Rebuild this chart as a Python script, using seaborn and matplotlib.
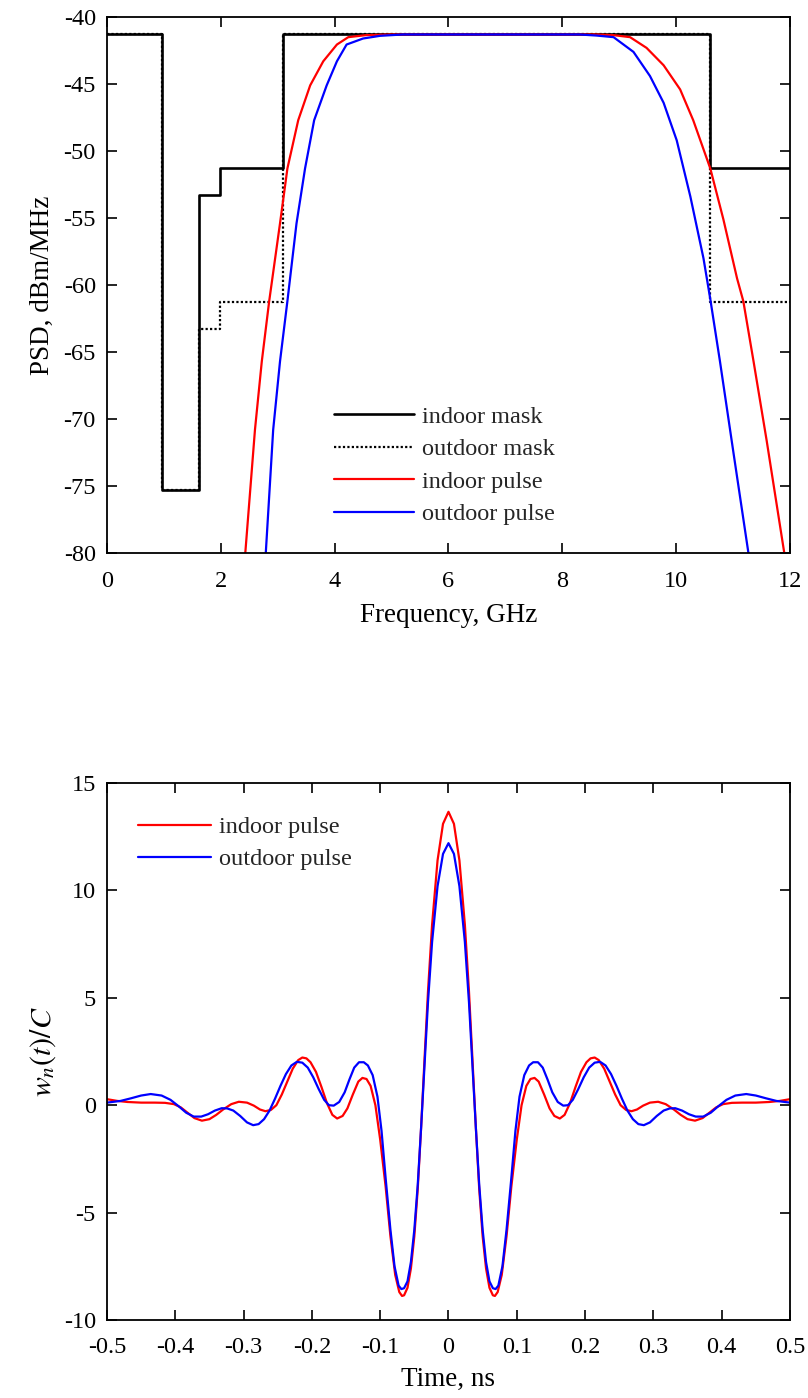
import matplotlib
matplotlib.use("Agg")
import matplotlib.pyplot as plt
import seaborn as sns

# ---------------- data: top panel (PSD) ----------------
mask_f = [0.0, 0.96, 1.61, 1.99, 3.1, 10.6, 12.0]
indoor_mask = [-41.3, -75.3, -53.3, -51.3, -41.3, -51.3, -51.3]
outdoor_mask = [-41.3, -75.3, -63.3, -61.3, -41.3, -61.3, -61.3]

indoor_f = [2.43, 2.60, 2.72, 2.85, 3.04, 3.17, 3.36, 3.57, 3.80, 4.04, 4.24, 4.55, 5.0, 6.0,
            7.0, 8.0, 8.6, 8.9, 9.19, 9.48, 9.78, 10.07, 10.30, 10.60, 10.83, 11.07, 11.18,
            11.36, 11.59, 11.90]
indoor_psd = [-80, -70.8, -65.7, -61.2, -55.4, -51.3, -47.7, -45.1, -43.3, -42.05, -41.5, -41.35,
              -41.3, -41.3, -41.3, -41.3, -41.3, -41.35, -41.5, -42.3, -43.6, -45.4, -47.7, -51.3,
              -55.1, -59.5, -61.2, -65.7, -71.6, -80]

outdoor_f = [2.79, 2.92, 3.04, 3.17, 3.33, 3.48, 3.64, 3.86, 4.04, 4.21, 4.50, 4.80, 5.2, 6.0,
             7.0, 8.0, 8.3, 8.6, 8.9, 9.25, 9.54, 9.78, 10.01, 10.25, 10.48, 10.60, 10.77,
             11.01, 11.27]
outdoor_psd = [-80, -70.8, -65.7, -61.2, -55.4, -51.3, -47.7, -45.1, -43.3, -42.05, -41.6, -41.4,
               -41.3, -41.3, -41.3, -41.3, -41.3, -41.38, -41.5, -42.6, -44.4, -46.4, -49.2,
               -53.4, -58.0, -61.05, -65.7, -72.6, -80]

freq_ticks = [0, 2, 4, 6, 8, 10, 12]
psd_ticks = [-80, -75, -70, -65, -60, -55, -50, -45, -40]

# ---------------- data: bottom panel (pulses) ----------------
indoor_t = [-0.500, -0.485, -0.470, -0.450, -0.430, -0.415, -0.402, -0.392, -0.382, -0.372,
            -0.361, -0.350, -0.340, -0.330, -0.318, -0.307, -0.295, -0.285, -0.276, -0.268,
            -0.260, -0.252, -0.244, -0.236, -0.228, -0.220, -0.214, -0.208, -0.202, -0.194,
            -0.186, -0.178, -0.170, -0.163, -0.155, -0.148, -0.140, -0.132, -0.126, -0.120,
            -0.114, -0.107, -0.100, -0.092, -0.085, -0.078, -0.072, -0.068, -0.065, -0.060,
            -0.055, -0.050, -0.045, -0.040, -0.035, -0.030, -0.024, -0.016, -0.008,
            0.000, 0.008, 0.016, 0.024, 0.030, 0.035, 0.040, 0.045, 0.050, 0.055, 0.060,
            0.065, 0.068, 0.072, 0.078, 0.085, 0.092, 0.100, 0.107, 0.114, 0.120, 0.126,
            0.132, 0.140, 0.148, 0.155, 0.163, 0.170, 0.178, 0.186, 0.194, 0.202, 0.208,
            0.214, 0.220, 0.228, 0.236, 0.244, 0.252, 0.260, 0.268, 0.276, 0.285, 0.295,
            0.307, 0.318, 0.330, 0.340, 0.350, 0.361, 0.372, 0.382, 0.392, 0.402, 0.415,
            0.430, 0.450, 0.470, 0.485, 0.500]
indoor_w = [0.28, 0.2, 0.15, 0.12, 0.12, 0.11, 0.05, -0.1, -0.35, -0.6,
            -0.72, -0.65, -0.45, -0.2, 0.05, 0.16, 0.12, -0.02, -0.2, -0.28,
            -0.22, 0.0, 0.5, 1.1, 1.7, 2.1, 2.22, 2.18, 2.0, 1.55,
            0.85, 0.1, -0.45, -0.62, -0.5, -0.15, 0.5, 1.1, 1.27, 1.22,
            0.9, 0.0, -1.6, -3.8, -6.1, -7.9, -8.7, -8.88, -8.85, -8.5,
            -7.6, -6.1, -3.9, -1.0, 2.2, 5.3, 8.4, 11.4, 13.1,
            13.66, 13.1, 11.4, 8.4, 5.3, 2.2, -1.0, -3.9, -6.1, -7.6, -8.5,
            -8.85, -8.88, -8.7, -7.9, -6.1, -3.8, -1.6, 0.0, 0.9, 1.22, 1.27,
            1.1, 0.5, -0.15, -0.5, -0.62, -0.45, 0.1, 0.85, 1.55, 2.0, 2.18,
            2.22, 2.1, 1.7, 1.1, 0.5, 0.0, -0.22, -0.28, -0.2, -0.02, 0.12,
            0.16, 0.05, -0.2, -0.45, -0.65, -0.72, -0.6, -0.35, -0.1, 0.05, 0.11,
            0.12, 0.12, 0.15, 0.2, 0.28]

outdoor_t = [-0.500, -0.480, -0.465, -0.450, -0.436, -0.420, -0.407, -0.395, -0.384, -0.373,
             -0.362, -0.352, -0.342, -0.332, -0.324, -0.315, -0.305, -0.295, -0.286, -0.278,
             -0.270, -0.262, -0.254, -0.246, -0.238, -0.230, -0.222, -0.214, -0.206, -0.198,
             -0.190, -0.182, -0.175, -0.168, -0.160, -0.152, -0.145, -0.138, -0.131, -0.124,
             -0.118, -0.111, -0.104, -0.098, -0.092, -0.085, -0.079, -0.073, -0.069, -0.065,
             -0.060, -0.055, -0.050, -0.045, -0.040, -0.035, -0.030, -0.024, -0.016, -0.008,
             0.000, 0.008, 0.016, 0.024, 0.030, 0.035, 0.040, 0.045, 0.050, 0.055,
             0.060, 0.065, 0.069, 0.073, 0.079, 0.085, 0.092, 0.098, 0.104, 0.111,
             0.118, 0.124, 0.131, 0.138, 0.145, 0.152, 0.160, 0.168, 0.175, 0.182,
             0.190, 0.198, 0.206, 0.214, 0.222, 0.230, 0.238, 0.246, 0.254, 0.262,
             0.270, 0.278, 0.286, 0.295, 0.305, 0.315, 0.324, 0.332, 0.342, 0.352,
             0.362, 0.373, 0.384, 0.395, 0.407, 0.420, 0.436, 0.450, 0.465, 0.480, 0.500]
outdoor_w = [0.12, 0.2, 0.32, 0.45, 0.52, 0.45, 0.25, -0.05, -0.35, -0.53,
             -0.53, -0.42, -0.25, -0.14, -0.15, -0.25, -0.5, -0.8, -0.93, -0.88,
             -0.65, -0.25, 0.3, 0.9, 1.45, 1.85, 2.02, 1.98, 1.75, 1.3,
             0.75, 0.25, 0.0, -0.02, 0.15, 0.6, 1.2, 1.75, 2.0, 2.0,
             1.85, 1.4, 0.4, -1.2, -3.4, -5.8, -7.5, -8.4, -8.56, -8.52,
             -8.2, -7.3, -5.8, -3.7, -1.0, 1.9, 4.8, 7.6, 10.2, 11.7,
             12.2, 11.7, 10.2, 7.6, 4.8, 1.9, -1.0, -3.7, -5.8, -7.3,
             -8.2, -8.52, -8.56, -8.4, -7.5, -5.8, -3.4, -1.2, 0.4, 1.4,
             1.85, 2.0, 2.0, 1.75, 1.2, 0.6, 0.15, -0.02, 0.0, 0.25,
             0.75, 1.3, 1.75, 1.98, 2.02, 1.85, 1.45, 0.9, 0.3, -0.25,
             -0.65, -0.88, -0.93, -0.8, -0.5, -0.25, -0.15, -0.14, -0.25, -0.42,
             -0.53, -0.53, -0.35, -0.05, 0.25, 0.45, 0.52, 0.45, 0.32, 0.2, 0.12]

time_ticks = [-0.5, -0.4, -0.3, -0.2, -0.1, 0, 0.1, 0.2, 0.3, 0.4, 0.5]
time_ticklabels = ["-0.5", "-0.4", "-0.3", "-0.2", "-0.1", "0", "0.1", "0.2", "0.3", "0.4", "0.5"]
w_ticks = [-10, -5, 0, 5, 10, 15]

# ---------------- style ----------------
sns.set_theme(style="white")
plt.rcParams["font.family"] = ["Liberation Serif", "DejaVu Serif"]
plt.rcParams["mathtext.fontset"] = "stix"
plt.rcParams["axes.unicode_minus"] = False
plt.rcParams["axes.edgecolor"] = "black"
plt.rcParams["axes.linewidth"] = 1.3

TICK_FS = 17.5
LAB_FS = 19.5
LEG_FS = 17.5
LW = 1.6

fig = plt.figure(figsize=(8.08, 13.98), dpi=100)
ax1 = fig.add_axes([0.1324, 0.6044, 0.8453, 0.3834])
ax2 = fig.add_axes([0.1324, 0.0558, 0.8453, 0.3841])

def style_axes(ax, xpad):
    ax.tick_params(axis="both", which="major", direction="in", length=7, width=1.2,
                   top=True, right=True, bottom=True, left=True,
                   labelsize=TICK_FS, colors="black")
    ax.tick_params(axis="x", pad=xpad)
    ax.tick_params(axis="y", pad=8)
    for s in ax.spines.values():
        s.set_color("black")
        s.set_linewidth(1.3)
    ax.grid(False)

# ---- top panel ----
sns.lineplot(x=mask_f, y=outdoor_mask, ax=ax1, color="black", lw=LW, linestyle=(0, (1, 1)),
             drawstyle="steps-post", estimator=None, sort=False, label="outdoor mask")
sns.lineplot(x=mask_f, y=indoor_mask, ax=ax1, color="black", lw=LW + 0.3,
             drawstyle="steps-post", estimator=None, sort=False, label="indoor mask")
sns.lineplot(x=indoor_f, y=indoor_psd, ax=ax1, color="#ff0000", lw=LW,
             estimator=None, sort=False, label="indoor pulse")
sns.lineplot(x=outdoor_f, y=outdoor_psd, ax=ax1, color="#0000ff", lw=LW,
             estimator=None, sort=False, label="outdoor pulse")
ax1.set_xlim(0, 12)
ax1.set_ylim(-80, -40)
ax1.set_xticks(freq_ticks)
ax1.set_yticks(psd_ticks)
ax1.set_xlabel("Frequency, GHz", fontsize=LAB_FS, color="black", labelpad=8)
ax1.set_ylabel("PSD, dBm/MHz", fontsize=LAB_FS, color="black", labelpad=6)
style_axes(ax1, 13)
h, l = ax1.get_legend_handles_labels()
order = [l.index("indoor mask"), l.index("outdoor mask"), l.index("indoor pulse"), l.index("outdoor pulse")]
ax1.legend([h[i] for i in order], [l[i] for i in order], loc="center left",
           bbox_to_anchor=(0.318, 0.163), borderaxespad=0, frameon=False,
           fontsize=LEG_FS, handlelength=3.3, handletextpad=0.33, labelspacing=0.43)

# ---- bottom panel ----
sns.lineplot(x=indoor_t, y=indoor_w, ax=ax2, color="#ff0000", lw=LW,
             estimator=None, sort=False, label="indoor pulse")
sns.lineplot(x=outdoor_t, y=outdoor_w, ax=ax2, color="#0000ff", lw=LW,
             estimator=None, sort=False, label="outdoor pulse")
ax2.set_xlim(-0.5, 0.5)
ax2.set_ylim(-10, 15)
ax2.set_xticks(time_ticks)
ax2.set_xticklabels(time_ticklabels)
ax2.set_yticks(w_ticks)
ax2.set_xlabel("Time, ns", fontsize=LAB_FS, color="black", labelpad=7)
ax2.set_ylabel(r"$w_n(t)/C$", fontsize=LAB_FS + 2, color="black", labelpad=4)
style_axes(ax2, 12)
ax2.legend(loc="center left", bbox_to_anchor=(0.031, 0.888), borderaxespad=0, frameon=False,
           fontsize=LEG_FS, handlelength=3.0, handletextpad=0.33, labelspacing=0.4)

fig.savefig("out.png", dpi=100)
